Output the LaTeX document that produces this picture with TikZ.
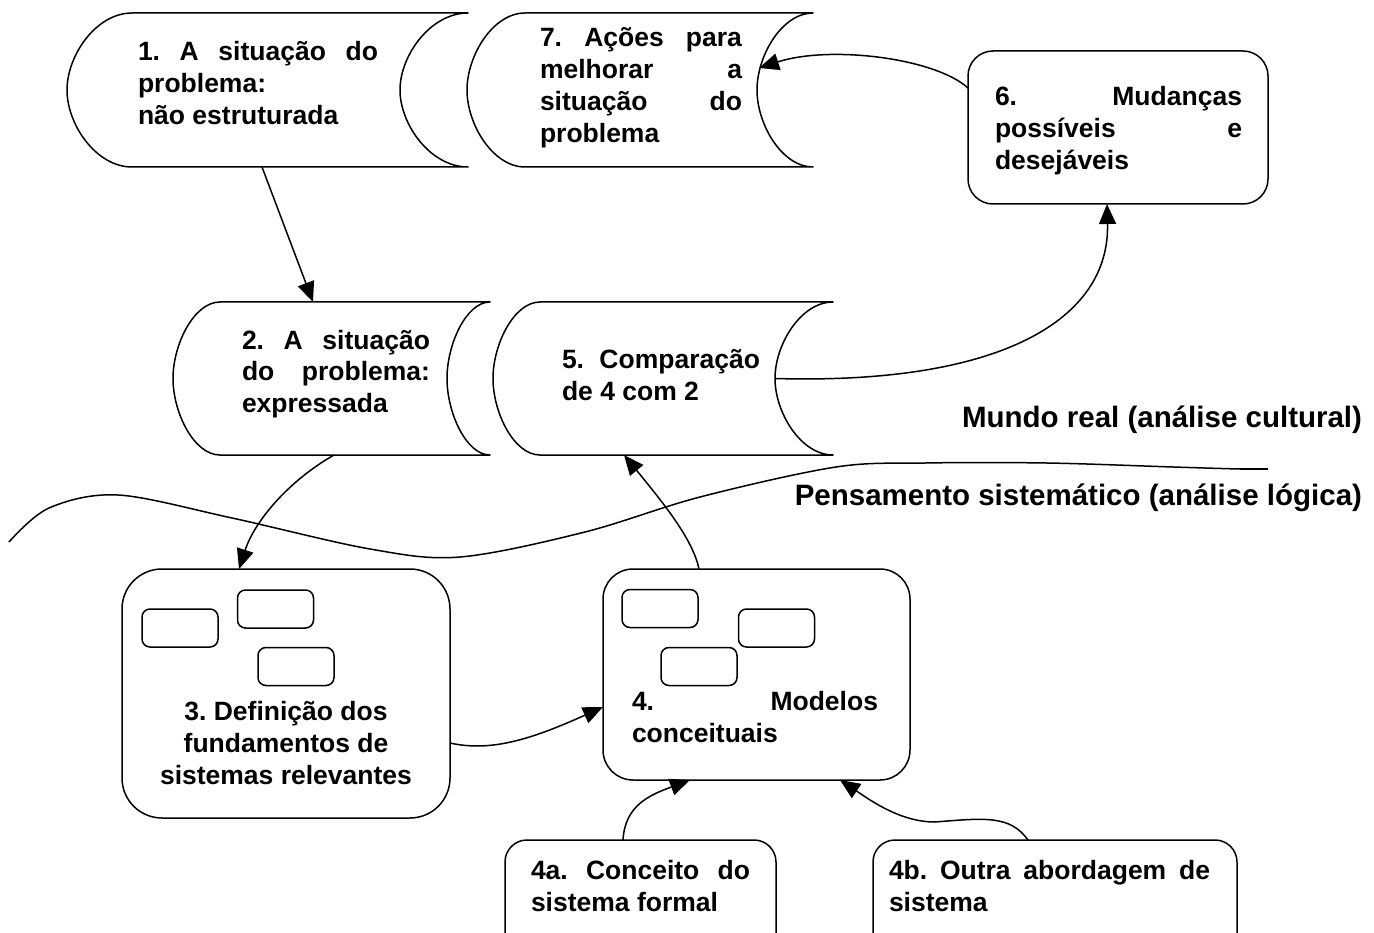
\documentclass[tikz,border=0pt]{standalone}
\usepackage{fontspec}
\setmainfont{Liberation Sans}
\usetikzlibrary{arrows.meta}

% text sizes (1pt = 1 unit of the drawing)
\newcommand\boxfont{\bfseries\frenchspacing\fontsize{26.5}{32}\selectfont}
\newcommand\lblfont{\bfseries\frenchspacing\fontsize{29.5}{34}\selectfont}

% "stored data" outline: #1 left tip x, #2 left corner x, #3 right corner x,
% #4 right (concave) tip x, #5 top y, #6 bottom y
\newcommand\sdshape[6]{%
  \draw (#2,#5) -- (#3,#5)
    .. controls ({#3-0.5523*(#3-#4)},#5) and (#4,{#5+0.5523*(#6-#5)/2}) .. (#4,{(#5+#6)/2})
    .. controls (#4,{#6-0.5523*(#6-#5)/2}) and ({#3-0.5523*(#3-#4)},#6) .. (#3,#6)
    -- (#2,#6)
    .. controls ({#2-0.5523*(#2-#1)},#6) and (#1,{#6-0.5523*(#6-#5)/2}) .. (#1,{(#5+#6)/2})
    .. controls (#1,{#5+0.5523*(#6-#5)/2}) and ({#2-0.5523*(#2-#1)},#5) .. cycle;}

\begin{document}
\begin{tikzpicture}[x=1pt, y=-1pt, line width=1.5pt, line join=round,
  every node/.style={inner sep=0pt, outer sep=0pt, font=\boxfont},
  area/.style={draw=none, rectangle},
  rbox/.style={draw, rectangle, rounded corners=#1},
  minibox/.style={draw, rectangle, rounded corners=8pt, minimum width=76pt, minimum height=38pt},
  flow/.style={-{Triangle[length=20pt,width=17pt]}},
  txt/.style={anchor=base west, align=left}]

\useasboundingbox (0,0) rectangle (1374,933);
\clip (0,0) rectangle (1374,933);

% ---- stored-data boxes (outline + invisible reference node) ----
\sdshape{67}{132}{468}{400}{13}{167}
\node[area, minimum width=401pt, minimum height=154pt] (b1) at (267.5,90) {};
\sdshape{467}{525}{813}{757}{13}{167}
\node[area, minimum width=346pt, minimum height=154pt] (b7) at (640,90) {};
\sdshape{173}{220}{490}{447}{302}{455}
\node[area, minimum width=317pt, minimum height=153pt] (b2) at (331.5,378.5) {};
\sdshape{493}{540}{833}{775}{302}{455}
\node[area, minimum width=340pt, minimum height=153pt] (b5) at (663,378.5) {};

% ---- rounded boxes ----
\node[rbox=25pt, minimum width=300pt, minimum height=153pt] (b6) at (1118,127.5) {};
\node[rbox=40pt, minimum width=328pt, minimum height=249pt] (b3) at (286,693.5) {};
\node[rbox=30pt, minimum width=307pt, minimum height=211pt] (b4) at (756.5,674.5) {};
\node[rbox=22pt, minimum width=271pt, minimum height=115pt] (b4a) at (640.5,897.5) {};
\node[rbox=22pt, minimum width=364pt, minimum height=115pt] (b4b) at (1055,897.5) {};

% small boxes inside 3 and 4
\node[minibox] (m31) at (180,628) {};
\node[minibox] (m32) at (275.5,609) {};
\node[minibox] (m33) at (296,666.5) {};
\node[minibox] (m41) at (660,608.5) {};
\node[minibox] (m42) at (776.5,628) {};
\node[minibox] (m43) at (699,666.5) {};

% ---- texts ----
\node[txt] (t1) at (138,61) {\begin{tabular}[t]{@{}l@{}}\makebox[240pt][s]{1. A situação do}\\problema:\\não estruturada\end{tabular}};
\node[txt] (t7) at (540,47) {\begin{tabular}[t]{@{}l@{}}\makebox[202pt][s]{7. Ações para}\\\makebox[202pt][s]{melhorar a}\\\makebox[202pt][s]{situação do}\\problema\end{tabular}};
\node[txt] (t6) at (995,106) {\begin{tabular}[t]{@{}l@{}}\makebox[247pt][s]{6. Mudanças}\\\makebox[247pt][s]{possíveis e}\\desejáveis\end{tabular}};
\node[txt] (t2) at (242,349) {\begin{tabular}[t]{@{}l@{}}\makebox[188pt][s]{2. A situação}\\\makebox[188pt][s]{do problema:}\\expressada\end{tabular}};
\node[txt] (t5) at (562,369) {\begin{tabular}[t]{@{}l@{}}\makebox[198pt][s]{5. Comparação}\\de 4 com 2\end{tabular}};
\node[anchor=base] (t3) at (286,720) {\begin{tabular}[t]{@{}c@{}}3. Definição dos\\fundamentos de\\sistemas relevantes\end{tabular}};
\node[txt] (t4) at (632,710) {\begin{tabular}[t]{@{}l@{}}\makebox[246pt][s]{4. Modelos}\\conceituais\end{tabular}};
\node[txt] (t4a) at (531,879) {\begin{tabular}[t]{@{}l@{}}\makebox[219pt][s]{4a. Conceito do}\\sistema formal\end{tabular}};
\node[txt] (t4b) at (889,879) {\begin{tabular}[t]{@{}l@{}}\makebox[321pt][s]{4b. Outra abordagem de}\\sistema\end{tabular}};

\node[anchor=base east, font=\lblfont] (lreal) at (1362,428) {Mundo real (análise cultural)};
\node[anchor=base east, font=\lblfont] (lsys) at (1362,505) {Pensamento sistemático (análise lógica)};

% ---- boundary between the two worlds ----
\draw plot[smooth, tension=0.55] coordinates {(9,542) (49,508) (118,495) (232,518) (370,549)
  (460,557) (585,532) (700,497) (836,467) (925,463) (1047,463) (1173,467) (1240,469) (1268,469)};
\draw[line width=2.8pt] (1240,469) -- (1268,469);

% ---- connectors ----
\draw[flow] ([xshift=-5.5pt]b1.south) -- ([xshift=-18.5pt]b2.north);
\draw[flow] ([xshift=2.5pt]b2.south) .. controls (290,480) and (255,520) .. ([xshift=-47pt]b3.north);
\draw[flow] ([yshift=-49.5pt]b3.east) .. controls (490,752) and (530,740) .. ([yshift=-32.5pt]b4.west);
\draw[flow] ([xshift=-57.5pt]b4.north) .. controls (693,540) and (665,505) .. ([xshift=-39pt]b5.south);
\draw[flow] ([xshift=-58pt]b5.east) .. controls (1000,385) and (1110,320) .. ([xshift=-11pt]b6.south);
\draw[flow] ([yshift=39.5pt]b6.west) .. controls (935,58) and (830,45) .. ([xshift=-54pt,yshift=22pt]b7.east);
\draw[flow] ([xshift=-17.5pt]b4a.north) .. controls (625,805) and (650,795) .. ([xshift=-66.5pt]b4.south);
\draw[flow] ([xshift=-27pt]b4b.north) .. controls (1010,815) and (985,818) .. (935,822)
  .. controls (900,822) and (870,800) .. ([xshift=83.5pt]b4.south);

\end{tikzpicture}
\end{document}
